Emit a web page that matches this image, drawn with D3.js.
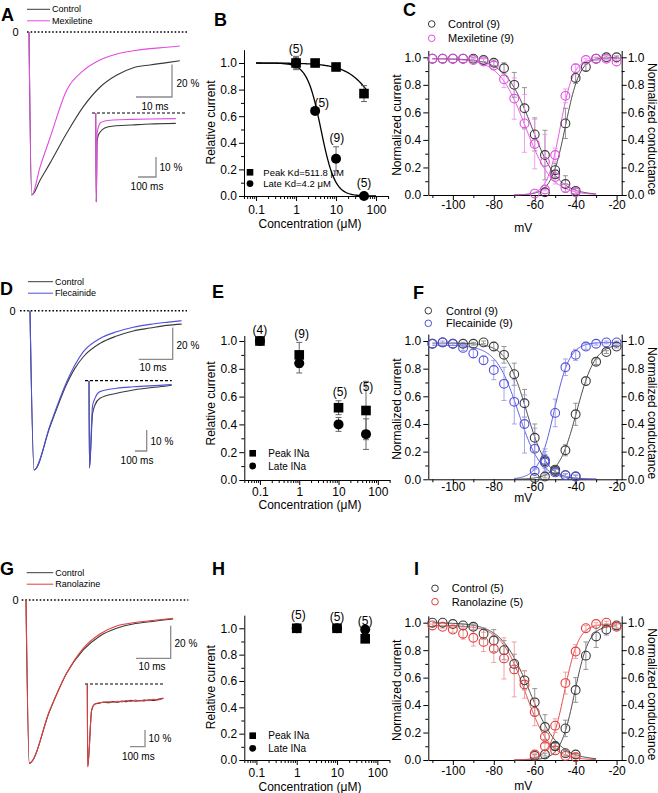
<!DOCTYPE html>
<html><head><meta charset="utf-8">
<script src="https://cdn.jsdelivr.net/npm/d3@7"></script>
<style>body{margin:0;background:#fff}svg{display:block}text{font-family:"Liberation Sans",Arial,Helvetica,sans-serif}</style>
</head><body><svg id="c" width="658" height="793"></svg>
<script>
// ================= DATA =================
// --- Panel A: current traces (ms, % of peak) ---
const timeA = [0, 0.75, 3.1, 5.8, 10.5, 15.1, 19.7, 24.4, 29, 33.6, 38.3, 41.9];
const controlA = [0, -100, -90.8, -80.6, -62, -45.8, -33.9, -26.4, -21.9, -20.2, -18.8, -17.6];
const mexiletineA = [0, -100, -82.6, -65.2, -35.6, -23.7, -17.2, -13.5, -11.5, -10.2, -9.4, -8.6];
const insetTimeA = [0, 3, 8, 15, 25, 50, 100, 200, 300, 445];
const insetControlA = [0, -44.5, -14, -11, -9.5, -7.5, -6.5, -6, -5.5, -5.2];
const insetMexA = [0, -44.5, -10, -7, -5, -4, -3.5, -3.2, -3, -2.8];
// --- Panel D ---
const timeD = [0, 1.2, 5.9, 10.8, 13.2, 15.7, 20.6, 25.5, 30.4, 35.3, 40.2, 44.6];
const controlD = [0, -100, -72.8, -46, -36.2, -28.9, -20.5, -15.9, -12.7, -10.9, -9.2, -8.4];
const flecainideD = [0, -100, -71.8, -44.6, -34.1, -25.7, -17.4, -13.2, -10.4, -8.6, -7.3, -6.3];
const insetTimeD = [0, 4, 30, 51, 94, 237, 379, 664, 707];
const insetControlD = [0, -41.6, -16, -11.6, -8.4, -6, -4.4, -2.5, -2.2];
const insetFlecD = [0, -41.6, -12, -8.4, -5.2, -3.6, -2.9, -2, -1.8];
// --- Panel G ---
const timeG = [0, 0.95, 6.9, 11.7, 16.5, 21.3, 26.1, 30.9, 35.7, 42.4];
const controlG = [0, -100, -67.4, -44.9, -30.6, -22, -17.3, -14.7, -13.3, -11.6];
const ranolazineG = [0, -100, -67.4, -44.9, -29.6, -20.8, -15.9, -13.9, -12.7, -11.2];
const insetTimeG = [0, 3, 29, 51, 80, 110, 140, 170, 200, 230, 260, 290, 320, 350, 380, 410, 440, 470, 507];
const insetControlG = [0, -49.5, -15.6, -12, -11.5, -10.8, -11.2, -10.5, -10.9, -10.2, -10.6, -9.8, -10.3, -9.9, -10.1, -9.4, -9.9, -9.2, -8.6];
const insetRanG = [0, -49.5, -15.6, -12, -11.2, -11.0, -10.6, -10.9, -10.3, -10.7, -9.9, -10.4, -9.6, -10.2, -9.5, -10.0, -9.1, -9.6, -8.4];

// --- Panel B: mexiletine dose response ---
const concB = [1, 3, 10, 50];
const peakB = [1.0, 1.0, 0.97, 0.77];
const peakErrB = [0.05, 0, 0, 0.06];
const lateB = [1.0, 0.64, 0.28, 0.0];
const lateErrB = [0.04, 0, 0.09, 0];
const fitPeakB = [200, 1.1];   // [K, Hill]
const fitLateB = [4.2, 2.5];
const nConcB = [1, 4.4, 10.5, 50];
const nValB = [1.11, 0.70, 0.44, 0.10];
const nTextB = ["(5)", "(5)", "(9)", "(5)"];
const legendB = ["Peak Kd=511.8 \u03bcM", "Late Kd=4.2 \u03bcM"];
// --- Panel E: flecainide ---
const concE = [0.1, 1, 10, 50];
const peakE = [1.0, 0.90, 0.52, 0.50];
const peakErrE = [0.01, 0.09, 0.05, 0.21];
const lateE = [1.0, 0.84, 0.40, 0.33];
const lateErrE = [0.01, 0.07, 0.05, 0.11];
const nConcE = [0.1, 1.15, 10.9, 50];
const nValE = [1.08, 1.05, 0.635, 0.67];
const nTextE = ["(4)", "(9)", "(5)", "(5)"];
// --- Panel H: ranolazine ---
const concH = [1, 10, 50];
const peakH = [1.0, 1.0, 0.92];
const peakErrH = [0.01, 0.01, 0.02];
const lateH = [1.0, 1.0, 0.99];
const lateErrH = [0.01, 0.01, 0.01];
const nConcH = [1.1, 10, 50];
const nValH = [1.10, 1.09, 1.06];
const nTextH = ["(5)", "(5)", "(5)"];
const legendEH = ["Peak INa", "Late INa"];

// --- Boltzmann panels ---
const volInact = [-110, -105, -100, -95, -90, -85, -80, -75, -70, -65, -60, -55, -50, -45, -40];
const volAct9 = [-60, -55, -50, -45, -40, -35, -30, -25, -20];
const volAct8 = [-55, -50, -45, -40, -35, -30, -25, -20];
// C
const ctrlInactC = [0.99, 0.99, 0.99, 0.99, 0.99, 0.98, 0.96, 0.92, 0.80, 0.63, 0.44, 0.29, 0.18, 0.08, 0.03];
const ctrlInactErrC = [0, 0, 0, 0, 0.01, 0.01, 0.02, 0.04, 0.09, 0.15, 0.12, 0.18, 0.05, 0.06, 0.02];
const mexInactC = [0.99, 0.99, 0.99, 0.99, 0.98, 0.97, 0.94, 0.84, 0.70, 0.52, 0.37, 0.24, 0.13, 0.05, 0.02];
const mexInactErrC = [0, 0, 0, 0, 0.01, 0.02, 0.03, 0.06, 0.15, 0.21, 0.18, 0.2, 0.05, 0.03, 0.01];
const ctrlActC = [0.02, 0.15, 0.52, 0.85, 0.93, 0.99, 1.0, 1.0];
const ctrlActErrC = [0, 0.03, 0.11, 0.04, 0.03, 0.01, 0.01, 0.01];
const mexActC = [0.01, 0.04, 0.29, 0.72, 0.92, 0.98, 0.99, 0.99, 0.97];
const mexActErrC = [0, 0.01, 0.05, 0.05, 0.03, 0.01, 0.01, 0.01, 0.01];
const fitC = { ctrlInact: [-61.5, 6.5, 0.99], drugInact: [-64.5, 6.5, 0.99], ctrlAct: [-45, 3.5, 1.0], drugAct: [-47.5, 3.2, 0.99] };
// F
const ctrlInactF = [0.98, 0.99, 0.98, 0.98, 0.98, 0.99, 0.96, 0.90, 0.76, 0.55, 0.30, 0.13, 0.06, 0.03, 0.02];
const ctrlInactErrF = [0, 0, 0, 0.01, 0.01, 0.01, 0.03, 0.06, 0.08, 0.1, 0.1, 0.05, 0.02, 0.01, 0.01];
const flecInactF = [0.98, 0.99, 0.98, 0.95, 0.91, 0.86, 0.79, 0.69, 0.56, 0.40, 0.22, 0.12, 0.05, 0.03, 0.02];
const flecInactErrF = [0, 0.01, 0.01, 0.02, 0.03, 0.03, 0.07, 0.12, 0.16, 0.21, 0.15, 0.08, 0.02, 0.01, 0.01];
const ctrlActF = [0.01, 0.02, 0.07, 0.21, 0.47, 0.71, 0.85, 0.92, 0.96];
const ctrlActErrF = [0, 0.01, 0.02, 0.04, 0.08, 0.03, 0.02, 0.01, 0.01];
const flecActF = [0.06, 0.14, 0.48, 0.81, 0.90, 0.96, 0.98, 0.99, 0.99];
const flecActErrF = [0.02, 0.08, 0.1, 0.06, 0.04, 0.02, 0.01, 0.01, 0.01];
const fitF = { ctrlInact: [-64, 5, 0.985], drugInact: [-68, 5.5, 0.97], ctrlAct: [-39.5, 4.5, 0.98], drugAct: [-50.5, 3.8, 0.99] };
// I
const ctrlInactI = [1.0, 1.0, 0.99, 0.98, 0.97, 0.92, 0.87, 0.80, 0.70, 0.58, 0.42, 0.24, 0.10, 0.05, 0.04];
const ctrlInactErrI = [0, 0, 0, 0.01, 0.02, 0.04, 0.08, 0.07, 0.07, 0.07, 0.1, 0.09, 0.03, 0.02, 0.01];
const ranInactI = [0.98, 0.97, 0.95, 0.92, 0.89, 0.86, 0.81, 0.74, 0.66, 0.55, 0.35, 0.17, 0.07, 0.03, 0.02];
const ranInactErrI = [0.01, 0.01, 0.02, 0.04, 0.06, 0.07, 0.1, 0.15, 0.2, 0.1, 0.1, 0.05, 0.03, 0.01, 0.01];
const ctrlActI = [0.03, 0.04, 0.10, 0.23, 0.51, 0.76, 0.90, 0.95, 0.98];
const ctrlActErrI = [0.01, 0.01, 0.02, 0.06, 0.09, 0.1, 0.08, 0.04, 0.02];
const ranActI = [0.04, 0.10, 0.25, 0.56, 0.79, 0.96, 0.99, 1.0, 0.97];
const ranActErrI = [0.01, 0.03, 0.05, 0.08, 0.05, 0.02, 0.01, 0.01, 0.02];
const fitI = { ctrlInact: [-62.5, 7, 1.0], drugInact: [-64.5, 6, 0.98], ctrlAct: [-40.5, 3.5, 0.98], drugAct: [-45.5, 3.5, 0.99] };

const yMajor = [0, 0.2, 0.4, 0.6, 0.8, 1.0];
const yMinor = [0.1, 0.3, 0.5, 0.7, 0.9];
const concMajor = [0.1, 1, 10, 100];
const vMajor = [-100, -80, -60, -40, -20];
const vMinor = [-110, -90, -70, -50, -30];

// ================= DRAWING =================
const svg = d3.select("#c");
const FF = '"Liberation Sans", Arial, Helvetica, sans-serif';
const COL = { ctrl: "#3a3a3a", mex: "#e24ce2", flec: "#4f4fdc", ran: "#e43c3c",
  ctrlErr: "#8a8a8a", mexErr: "#ec95ec", flecErr: "#9a9aea", ranErr: "#f09a9a" };

function txt(x, y, s, o = {}) {
  const t = svg.append("text").attr("x", x).attr("y", y).text(s)
    .attr("font-size", o.size || 12).attr("fill", o.fill || "#000")
    .attr("text-anchor", o.anchor || "start");
  if (o.weight) t.attr("font-weight", o.weight);
  if (o.rotate) t.attr("transform", `rotate(${o.rotate},${x},${y})`);
  if (o.mid) t.attr("dy", "0.35em");
  return t;
}
function styleAxis(g) {
  g.attr("font-size", 12).attr("font-family", FF);
  g.selectAll("path,line").attr("stroke", "#000").attr("stroke-width", 1);
  g.selectAll("text").attr("fill", "#000");
}
function axisY(y, x0, side, pad) {
  const gen = side === "left" ? d3.axisLeft : d3.axisRight;
  const g = svg.append("g").attr("transform", `translate(${x0},0)`);
  g.call(gen(y).tickValues(yMajor).tickFormat(d3.format(".1f")).tickSize(5).tickPadding(pad).tickSizeOuter(0));
  g.append("g").call(gen(y).tickValues(yMinor).tickFormat(() => "").tickSize(3).tickSizeOuter(0))
    .call(s => s.select(".domain").remove());
  styleAxis(g);
}
function axisX(x, y0, major, minor, fmt, pad) {
  const g = svg.append("g").attr("transform", `translate(0,${y0})`);
  g.call(d3.axisBottom(x).tickValues(major).tickFormat(fmt).tickSize(5).tickPadding(pad).tickSizeOuter(0));
  g.append("g").call(d3.axisBottom(x).tickValues(minor).tickFormat(() => "").tickSize(3).tickSizeOuter(0))
    .call(s => s.select(".domain").remove());
  styleAxis(g);
}

// ---------- trace panels ----------
function traceBlock(times, list, colors, x0, tRef, tPx, y0, p100) {
  const x = d3.scaleLinear().domain([0, tRef]).range([x0, x0 + tPx]);
  const y = d3.scaleLinear().domain([0, -100]).range([y0, y0 + p100]);
  const line = d3.line().x(d => x(d[0])).y(d => y(d[1])).curve(d3.curveMonotoneX);
  list.forEach((vals, i) => svg.append("path").datum(times.map((t, j) => [t, vals[j]]))
    .attr("d", line).attr("fill", "none").attr("stroke", colors[i])
    .attr("stroke-width", 1.1).attr("stroke-linejoin", "round"));
  return { x, y };
}
function scaleBar(sc, cx, cy, dt, dp) {
  const h = sc.x(dt) - sc.x(0), v = sc.y(-dp) - sc.y(0);
  svg.append("path").attr("d", `M${cx - h},${cy}H${cx}V${cy - v}`)
    .attr("fill", "none").attr("stroke", "#8c8c8c").attr("stroke-width", 1.3);
}
function hline(x1, x2, y, dash, w) {
  svg.append("line").attr("x1", x1).attr("x2", x2).attr("y1", y).attr("y2", y)
    .attr("stroke", "#000").attr("stroke-width", w).attr("stroke-dasharray", dash);
}
function traceLegend(x1, x2, y, labels, colors) {
  labels.forEach((l, i) => {
    svg.append("line").attr("x1", x1).attr("x2", x2).attr("y1", y + i * 11.5).attr("y2", y + i * 11.5)
      .attr("stroke", colors[i]).attr("stroke-width", 1);
    txt(x2 + 2, y + i * 11.5, l, { size: 9, mid: true });
  });
}

// Panel A
txt(1, 21, "A", { size: 18, weight: "bold" });
traceLegend(27, 50, 9.3, ["Control", "Mexiletine"], [COL.ctrl, COL.mex]);
txt(15.5, 32, "0", { size: 11, anchor: "middle", mid: true });
hline(27, 188, 32, "1.6,2", 1.6);
const scA = traceBlock(timeA, [controlA, mexiletineA], [COL.ctrl, COL.mex], 29, 10, 36, 32, 163);
scaleBar(scA, 172, 97, 10, 20);
txt(176.5, 87.3, "20 %", { size: 10 });
txt(155, 110, "10 ms", { size: 10, anchor: "middle" });
hline(92, 187, 113, "3,2", 1.2);
const scAi = traceBlock(insetTimeA, [insetControlA, insetMexA], [COL.ctrl, COL.mex], 95.7, 100, 18, 113, 200);
scaleBar(scAi, 156, 177, 100, 10);
txt(159.5, 170.7, "10 %", { size: 10 });
txt(147, 190, "100 ms", { size: 10, anchor: "middle" });

// Panel D
txt(0, 295, "D", { size: 18, weight: "bold" });
traceLegend(28, 53, 281.7, ["Control", "Flecainide"], [COL.ctrl, COL.flec]);
txt(12.5, 310.7, "0", { size: 11, anchor: "middle", mid: true });
hline(20, 187, 310.7, "1.6,2", 1.6);
const scD = traceBlock(timeD, [controlD, flecainideD], [COL.ctrl, COL.flec], 30, 10, 34, 310.7, 159.3);
scaleBar(scD, 172.7, 359.3, 10, 20);
txt(176.5, 349, "20 %", { size: 10 });
txt(153, 370.7, "10 ms", { size: 10, anchor: "middle" });
hline(85, 171.7, 380.7, "3,2", 1.2);
const scDi = traceBlock(insetTimeD, [insetControlD, insetFlecD], [COL.ctrl, COL.flec], 89, 100, 11.7, 380.7, 210);
scaleBar(scDi, 146.7, 451, 100, 10);
txt(150.5, 445, "10 %", { size: 10 });
txt(137, 464, "100 ms", { size: 10, anchor: "middle" });

// Panel G
txt(0, 575, "G", { size: 18, weight: "bold" });
traceLegend(26.7, 53.3, 572.7, ["Control", "Ranolazine"], [COL.ctrl, COL.ran]);
txt(15.5, 600, "0", { size: 11, anchor: "middle", mid: true });
hline(21.7, 188.3, 600, "1.6,2", 1.6);
const scG = traceBlock(timeG, [controlG, ranolazineG], [COL.ctrl, COL.ran], 26, 10, 34.7, 600, 163.3);
scaleBar(scG, 170.7, 658.3, 10, 20);
txt(174.5, 647.3, "20 %", { size: 10 });
txt(152, 670, "10 ms", { size: 10, anchor: "middle" });
hline(85, 163.3, 684, "3,2", 1.2);
const scGi = traceBlock(insetTimeG, [insetControlG, insetRanG], [COL.ctrl, COL.ran], 87.3, 100, 15, 684, 167);
scaleBar(scGi, 145, 746.7, 100, 10);
txt(148.5, 742.3, "10 %", { size: 10 });
txt(138.3, 760, "100 ms", { size: 10, anchor: "middle" });

// ---------- dose-response panels ----------
function dosePanel(o) {
  const x = d3.scaleLog().domain(o.xdom).range([o.x0, o.x0 + o.dec * Math.log10(o.xdom[1] / o.xdom[0])]);
  const y = d3.scaleLinear().domain([0, o.top]).range([o.y0, o.y0 - o.top * o.unit]);
  axisY(y, o.x0, "left", 2);
  const minors = [];
  [0.01, 0.1, 1, 10, 100].forEach(d => [2, 3, 4, 5, 6, 7, 8, 9].forEach(m => {
    const v = d * m; if (v >= o.xdom[0] - 1e-9 && v <= o.xdom[1] + 1e-9 && !concMajor.includes(v)) minors.push(v);
  }));
  axisX(x, o.y0, concMajor, minors, d => String(d), o.xpad);
  txt(o.x0 - 29.5, (o.y0 + y(1)) / 2 - 7, "Relative current", { rotate: -90, anchor: "middle" });
  txt(310, o.y0 + o.titleOff, "Concentration (\u03bcM)", { anchor: "middle" });
  // fits
  (o.fits || []).forEach(f => {
    const pts = d3.range(0, 1.0001, 0.01).map(u => {
      const c = Math.pow(10, Math.log10(f.lo) + u * (Math.log10(f.hi) - Math.log10(f.lo)));
      return [c, 1 / (1 + Math.pow(c / f.p[0], f.p[1]))];
    });
    svg.append("path").datum(pts).attr("d", d3.line().x(d => x(d[0])).y(d => y(d[1])))
      .attr("fill", "none").attr("stroke", "#000").attr("stroke-width", 1.3);
  });
  // error bars
  [[o.peak, o.peakErr], [o.late, o.lateErr]].forEach(([v, e]) => o.conc.forEach((c, i) => {
    if (!e[i]) return;
    const cx = x(c), a = y(v[i] + e[i]), b = y(v[i] - e[i]);
    svg.append("path").attr("d", `M${cx},${a}V${b}M${cx - 3},${a}H${cx + 3}M${cx - 3},${b}H${cx + 3}`)
      .attr("stroke", "#555").attr("stroke-width", 0.9).attr("fill", "none");
  }));
  o.conc.forEach((c, i) => svg.append("rect").attr("x", x(c) - 4.8).attr("y", y(o.peak[i]) - 4.8)
    .attr("width", 9.6).attr("height", 9.6).attr("fill", "#000"));
  o.conc.forEach((c, i) => svg.append("circle").attr("cx", x(c)).attr("cy", y(o.late[i])).attr("r", 5).attr("fill", "#000"));
  o.nConc.forEach((c, i) => txt(x(c), y(o.nVal[i]), o.nText[i], { anchor: "middle", mid: true }));
  // legend
  svg.append("rect").attr("x", o.legX - 3.3).attr("y", o.legY - 3.3).attr("width", 6.6).attr("height", 6.6).attr("fill", "#000");
  svg.append("circle").attr("cx", o.legX).attr("cy", o.legY + o.legDy).attr("r", 3.4).attr("fill", "#000");
  txt(o.legTx, o.legY, o.legend[0], { size: o.legSize, mid: true });
  txt(o.legTx, o.legY + o.legDy, o.legend[1], { size: o.legSize, mid: true });
}

txt(214, 26, "B", { size: 18, weight: "bold" });
dosePanel({ xdom: [0.05, 200], x0: 244, dec: 40, y0: 196, unit: 133, top: 1.1, xpad: 4, titleOff: 31.5,
  conc: concB, peak: peakB, peakErr: peakErrB, late: lateB, lateErr: lateErrB,
  fits: [{ p: fitPeakB, lo: 0.1, hi: 60 }, { p: fitLateB, lo: 0.1, hi: 100 }],
  nConc: nConcB, nVal: nValB, nText: nTextB,
  legX: 250, legY: 172.3, legDy: 11.3, legTx: 263.3, legSize: 9.5, legend: legendB });

txt(212, 298, "E", { size: 18, weight: "bold" });
dosePanel({ xdom: [0.04, 200], x0: 244.3, dec: 39.3, y0: 480, unit: 139, top: 1.04, xpad: 2, titleOff: 29,
  conc: concE, peak: peakE, peakErr: peakErrE, late: lateE, lateErr: lateErrE, fits: [],
  nConc: nConcE, nVal: nValE, nText: nTextE,
  legX: 252.7, legY: 453.3, legDy: 12.7, legTx: 268.3, legSize: 10, legend: legendEH });

txt(212, 575, "H", { size: 18, weight: "bold" });
dosePanel({ xdom: [0.05, 200], x0: 244.3, dec: 40.3, y0: 760, unit: 131.7, top: 1.1, xpad: 3, titleOff: 31,
  conc: concH, peak: peakH, peakErr: peakErrH, late: lateH, lateErr: lateErrH, fits: [],
  nConc: nConcH, nVal: nValH, nText: nTextH,
  legX: 252.7, legY: 735.7, legDy: 12.6, legTx: 268.3, legSize: 10, legend: legendEH });

// ---------- Boltzmann panels ----------
function boltzPanel(o) {
  const x = d3.scaleLinear().domain([-112, -17.5]).range([428.3, 621.7]);
  const y = d3.scaleLinear().domain([0, 1.05]).range([o.y0, o.y0 - 1.05 * o.unit]);
  axisY(y, 428.3, "left", 2);
  axisY(y, 621.7, "right", 1);
  axisX(x, o.y0, vMajor, vMinor, d => String(d), o.xpad);
  const yc = (o.y0 + y(1)) / 2 - 1;
  txt(401, yc, "Normalized current", { rotate: -90, anchor: "middle" });
  txt(647.5, yc + 4, "Normalized conductance", { rotate: 90, anchor: "middle" });
  txt(523.3, o.y0 + o.titleOff, "mV", { anchor: "middle" });
  // fits
  const fl = d3.line().x(d => x(d[0])).y(d => y(d[1]));
  const inact = (p, v) => p[2] / (1 + Math.exp((v - p[0]) / p[1]));
  const act = (p, v) => p[2] / (1 + Math.exp((p[0] - v) / p[1]));
  [[o.fit.ctrlInact, inact, -110, -30, COL.ctrl], [o.fit.ctrlAct, act, -70, -20, COL.ctrl],
   [o.fit.drugInact, inact, -110, -30, o.color], [o.fit.drugAct, act, -70, -20, o.color]].forEach(([p, fn, a, b, c]) => {
    const pts = d3.range(a, b + 0.01, 0.5).map(v => [v, fn(p, v)]);
    svg.append("path").datum(pts).attr("d", fl).attr("fill", "none").attr("stroke", c).attr("stroke-width", 0.9);
  });
  const series = [
    [volInact, o.ctrlInact, o.ctrlInactErr, COL.ctrl, COL.ctrlErr],
    [o.ctrlActV, o.ctrlAct, o.ctrlActErr, COL.ctrl, COL.ctrlErr],
    [volInact, o.drugInact, o.drugInactErr, o.color, o.ecolor],
    [volAct9, o.drugAct, o.drugActErr, o.color, o.ecolor]];
  series.forEach(([vs, vals, errs, c, ec]) => vs.forEach((v, i) => {
    if (!errs[i]) return;
    const cx = x(v), a = y(vals[i] + errs[i]), b = y(Math.max(0, vals[i] - errs[i]));
    svg.append("path").attr("d", `M${cx},${a}V${b}M${cx - 2.5},${a}H${cx + 2.5}M${cx - 2.5},${b}H${cx + 2.5}`)
      .attr("stroke", ec).attr("stroke-width", 0.9).attr("fill", "none");
  }));
  series.forEach(([vs, vals, errs, c]) => vs.forEach((v, i) => {
    svg.append("circle").attr("cx", x(v)).attr("cy", y(vals[i])).attr("r", 4.4)
      .attr("fill", "none").attr("stroke", c).attr("stroke-width", 1.1);
  }));
  // legend
  o.legend.forEach((l, i) => {
    const ly = o.legY + i * o.legDy;
    svg.append("circle").attr("cx", o.legX).attr("cy", ly).attr("r", 3.3).attr("fill", "none")
      .attr("stroke", i ? o.color : COL.ctrl).attr("stroke-width", 1);
    txt(o.legTx, ly, l, { size: 11, mid: true });
  });
}

txt(403, 15.5, "C", { size: 18, weight: "bold" });
boltzPanel({ y0: 195, unit: 137.7, xpad: 0, titleOff: 37, color: COL.mex, ecolor: COL.mexErr, fit: fitC,
  ctrlInact: ctrlInactC, ctrlInactErr: ctrlInactErrC, ctrlActV: volAct8, ctrlAct: ctrlActC, ctrlActErr: ctrlActErrC,
  drugInact: mexInactC, drugInactErr: mexInactErrC, drugAct: mexActC, drugActErr: mexActErrC,
  legend: ["Control (9)", "Mexiletine (9)"], legX: 431.7, legY: 24, legDy: 14.3, legTx: 448 });

txt(413, 298.5, "F", { size: 18, weight: "bold" });
boltzPanel({ y0: 479.3, unit: 138.3, xpad: -2, titleOff: 22.5, color: COL.flec, ecolor: COL.flecErr, fit: fitF,
  ctrlInact: ctrlInactF, ctrlInactErr: ctrlInactErrF, ctrlActV: volAct9, ctrlAct: ctrlActF, ctrlActErr: ctrlActErrF,
  drugInact: flecInactF, drugInactErr: flecInactErrF, drugAct: flecActF, drugActErr: flecActErrF,
  legend: ["Control (9)", "Flecainide (9)"], legX: 428.3, legY: 310.7, legDy: 12.6, legTx: 446 });

txt(414, 575, "I", { size: 18, weight: "bold" });
boltzPanel({ y0: 760, unit: 137.3, xpad: 1, titleOff: 30, color: COL.ran, ecolor: COL.ranErr, fit: fitI,
  ctrlInact: ctrlInactI, ctrlInactErr: ctrlInactErrI, ctrlActV: volAct9, ctrlAct: ctrlActI, ctrlActErr: ctrlActErrI,
  drugInact: ranInactI, drugInactErr: ranInactErrI, drugAct: ranActI, drugActErr: ranActErrI,
  legend: ["Control (5)", "Ranolazine (5)"], legX: 435, legY: 588.3, legDy: 13.4, legTx: 451.7 });
</script></body></html>
